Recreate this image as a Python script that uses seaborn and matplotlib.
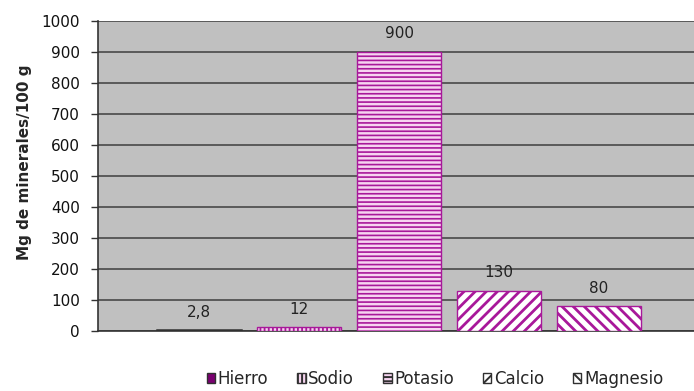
import matplotlib
matplotlib.use("Agg")
import matplotlib.pyplot as plt
import seaborn as sns
import pandas as pd
from matplotlib.patches import Patch

# Mineral content (mg per 100 g)
minerales = ["Hierro", "Sodio", "Potasio", "Calcio", "Magnesio"]
valores = [2.8, 12, 900, 130, 80]
etiquetas = ["2,8", "12", "900", "130", "80"]

# Fill colours, hatch patterns and hatch line widths per mineral
rellenos = ["#7a0070", "#f4d4ee", "#f6d4f0", "#ffffff", "#ffffff"]
tramas = ["", "||||", "----", "///", "\\\\\\"]
grosor_trama = [1.0, 1.3, 1.2, 2.0, 2.0]
color_trama = "#a8189a"
borde = "#303030"

sns.set_style("white")
plt.rcParams["font.family"] = ["DejaVu Sans"]
plt.rcParams["hatch.linewidth"] = 1.4

df = pd.DataFrame({"Mineral": minerales, "Valor": valores})

fig = plt.figure(figsize=(6.94, 3.91), dpi=100)
ax = fig.add_axes([98 / 694, 60 / 391, 596 / 694, 310 / 391])
ax.set_facecolor("#c0c0c0")

sns.barplot(data=df, x="Mineral", y="Valor", hue="Mineral",
            palette=rellenos, saturation=1, width=0.84,
            legend=False, ax=ax, zorder=3)


def aplicar_trama(patch, i):
    patch.set_hatch(tramas[i])
    patch.set_edgecolor(borde if i == 0 else color_trama)
    patch.set_linewidth(1.8 if i == 0 else 1.0)
    if hasattr(patch, "set_hatch_linewidth"):
        patch.set_hatch_linewidth(grosor_trama[i])
    elif hasattr(patch, "_hatch_linewidth"):
        patch._hatch_linewidth = grosor_trama[i]


for i, patch in enumerate(ax.patches):
    aplicar_trama(patch, i)

# Value labels above each bar
for i, (v, t) in enumerate(zip(valores, etiquetas)):
    ax.annotate(t, xy=(i, v), xytext=(0, 13), textcoords="offset points",
                ha="center", va="center", fontsize=11, color="#222222")

ax.set_ylim(0, 1000)
ax.set_xlim(-1.01, 4.95)
ax.set_yticks(range(0, 1001, 100))
ax.tick_params(axis="y", left=True, length=5, width=1, color="#333333",
               labelsize=11, labelcolor="#111111", pad=8)
ax.set_xticks([])
ax.set_xlabel("")
ax.set_ylabel("Mg de minerales/100 g", fontsize=11, fontweight="bold")
ax.yaxis.set_label_coords(-0.111, 0.545)

ax.grid(axis="y", color="#5a5a5a", linewidth=1.4, zorder=1)
ax.set_axisbelow(True)
for side in ["top", "right"]:
    ax.spines[side].set_visible(False)
ax.spines["left"].set_color("#333333")
ax.spines["left"].set_linewidth(1.2)
ax.spines["bottom"].set_color("#333333")
ax.spines["bottom"].set_linewidth(1.2)

handles = []
for i, m in enumerate(minerales):
    h = Patch(facecolor=rellenos[i], label=m)
    aplicar_trama(h, i)
    h.set_edgecolor(borde)
    h.set_linewidth(1.0)
    handles.append(h)

fig.legend(handles=handles, loc="center", bbox_to_anchor=(435 / 694, 1 - 379 / 391),
           ncol=5, frameon=False, fontsize=12, handlelength=0.5, handleheight=0.5,
           handletextpad=0.15, columnspacing=1.75)

fig.savefig("out.png", dpi=100)
